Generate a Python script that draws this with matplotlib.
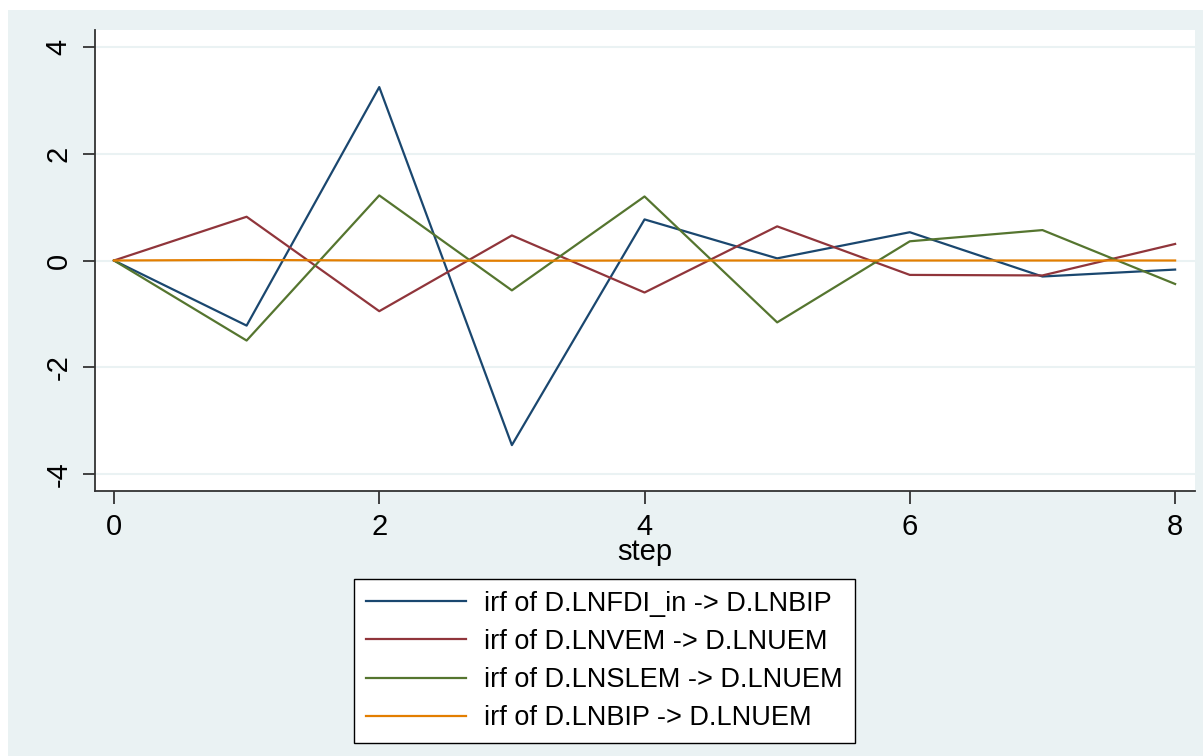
import matplotlib
matplotlib.use("Agg")
import matplotlib.pyplot as plt
from matplotlib.patches import Rectangle

plt.rcParams['font.family'] = ['Liberation Sans', 'DejaVu Sans']

# impulse response values
steps = [0, 1, 2, 3, 4, 5, 6, 7, 8]
irf_fdi_bip = [0, -1.22, 3.25, -3.46, 0.77, 0.04, 0.53, -0.30, -0.17]
irf_vem_uem = [0, 0.82, -0.95, 0.47, -0.60, 0.64, -0.27, -0.28, 0.31]
irf_slem_uem = [0, -1.50, 1.22, -0.56, 1.20, -1.16, 0.36, 0.57, -0.44]
irf_bip_uem = [0, 0.01, 0, -0.005, 0, 0, 0, 0, 0]

labels = ["irf of D.LNFDI_in -> D.LNBIP",
          "irf of D.LNVEM -> D.LNUEM",
          "irf of D.LNSLEM -> D.LNUEM",
          "irf of D.LNBIP -> D.LNUEM"]
colors = ["#1a476f", "#90353b", "#55752f", "#e37e00"]
yticks = [-4, -2, 0, 2, 4]
xticks = [0, 2, 4, 6, 8]

bg = "#eaf2f3"

fig = plt.figure(figsize=(12.03, 7.56), dpi=100, facecolor="white")
# Stata-like background panel (small white margin top/left)
fig.patches.append(Rectangle((8/1203, 0), 1 - 8/1203, 1 - 10/756,
                             transform=fig.transFigure, facecolor=bg,
                             edgecolor="none", zorder=-10))

ax = fig.add_axes([95/1203, 1 - 491/756, 1100/1203, 461/756])
ax.set_facecolor("white")

series = [irf_fdi_bip, irf_vem_uem, irf_slem_uem, irf_bip_uem]
for vals, c, lab in zip(series, colors, labels):
    ax.plot(steps, vals, color=c, lw=1.6, label=lab, zorder=3)

ax.set_xlim(-0.143, 8.15)
ax.set_ylim(-4.32, 4.32)
ax.set_xticks(xticks)
ax.set_yticks(yticks)
ax.set_yticklabels([str(t) for t in yticks], rotation=90, va="center")
ax.tick_params(axis="both", labelsize=21, length=9, width=1.3,
               color="#333333", direction="out", pad=7)
ax.grid(axis="y", color=bg, lw=1.5, zorder=1)
ax.set_axisbelow(True)
for s in ["top", "right"]:
    ax.spines[s].set_visible(False)
for s in ["left", "bottom"]:
    ax.spines[s].set_color("#333333")
    ax.spines[s].set_linewidth(1.3)
ax.set_xlabel("step", fontsize=21, labelpad=-2)

leg = fig.legend(loc="center", bbox_to_anchor=(0.5025, 0.1257),
                 fontsize=19.5, handlelength=3.7, labelspacing=0.45,
                 frameon=True, fancybox=False, framealpha=1,
                 borderpad=0.45, handletextpad=0.65, borderaxespad=0)
leg.get_frame().set_edgecolor("black")
leg.get_frame().set_linewidth(1.0)
leg.get_frame().set_facecolor("white")

fig.savefig("out.png", dpi=100, facecolor=fig.get_facecolor())
